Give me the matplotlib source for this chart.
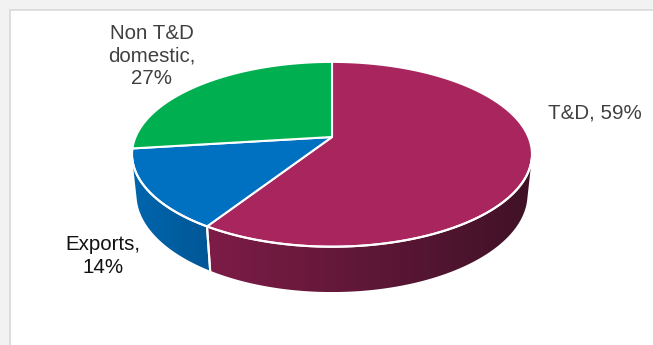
import numpy as np
import matplotlib
matplotlib.use("Agg")
import matplotlib.pyplot as plt
from matplotlib.patches import Polygon, Rectangle

labels = ["T&D, 59%", "Exports,\n14%", "Non T&D\ndomestic,\n27%"]
shares = [59, 14, 27]
top_colors = ["#A8265D", "#0070C0", "#00B050"]
side_light = [(0.49, 0.11, 0.28), (0.00, 0.40, 0.68), (0.00, 0.55, 0.25)]
side_dark = [(0.25, 0.07, 0.15), (0.00, 0.34, 0.59), (0.00, 0.45, 0.20)]
text_colors = ["#404040", "#111111", "#404040"]
label_pos = [(595, 113), (103, 256), (152, 56)]

# perspective camera
theta = np.radians(27)
D = 4.76
h = 0.23
scale = 935.0
cx, cy = 332, 137


def project(a, z=0.0, r=1.0):
    # a: angle clockwise from 12 o'clock (far side)
    x = r * np.sin(a)
    y = r * np.cos(a)
    ry = y + D * np.cos(theta)
    rz = z - D * np.sin(theta)
    depth = ry * np.cos(theta) - rz * np.sin(theta)
    up = ry * np.sin(theta) + rz * np.cos(theta)
    return cx + scale * x / depth, cy - scale * up / depth


fig = plt.figure(figsize=(6.53, 3.45), dpi=100)
fig.patch.set_facecolor("#F2F2F2")
ax = fig.add_axes([0, 0, 1, 1])
ax.set_xlim(0, 653)
ax.set_ylim(345, 0)
ax.axis("off")
ax.add_patch(Rectangle((9.5, 9.5), 660, 360, facecolor="white",
                       edgecolor="#D9D9D9", lw=1.2, zorder=0))

bounds = np.radians(np.concatenate([[0], np.cumsum(shares)]) * 3.6)
vis_lo = np.arccos(-1 / (D * np.cos(theta)))
vis_hi = 2 * np.pi - vis_lo

# sides with horizontal gradient
for i in range(len(shares)):
    a0, a1 = max(bounds[i], vis_lo), min(bounds[i + 1], vis_hi)
    if a1 <= a0:
        continue
    angs = np.linspace(a0, a1, 200)
    xt, yt = project(angs)
    xb, yb = project(angs[::-1], -h)
    px = np.r_[xt, xb]
    py = np.r_[yt, yb]
    side = Polygon(np.column_stack([px, py]), closed=True, facecolor="none",
                   edgecolor="none", zorder=1)
    ax.add_patch(side)
    t = np.linspace(0, 1, 256)
    grad = np.array(side_light[i])[None, :] * (1 - t[:, None]) + \
        np.array(side_dark[i])[None, :] * t[:, None]
    im = ax.imshow(grad[None, :, :], extent=[px.min(), px.max(), py.max(), py.min()],
                   aspect="auto", interpolation="bilinear", zorder=1)
    im.set_clip_path(side)
    # white seam on side at slice boundary
    for b in (bounds[i], bounds[i + 1]):
        if vis_lo < b < vis_hi:
            x0, y0 = project(b)
            x1, y1 = project(b, -h)
            ax.plot([x0, x1], [y0, y1], color="white", lw=1.5, zorder=2)

ax.set_xlim(0, 653)
ax.set_ylim(345, 0)

# top faces
for i in range(len(shares)):
    angs = np.linspace(bounds[i], bounds[i + 1], 200)
    xs, ys = project(angs)
    pts = np.column_stack([np.r_[cx, xs], np.r_[cy, ys]])
    ax.add_patch(Polygon(pts, closed=True, facecolor=top_colors[i],
                         edgecolor="white", lw=1.5, joinstyle="round", zorder=3))

# front rim highlight
rim = np.linspace(vis_lo, vis_hi, 300)
xr, yr = project(rim)
ax.plot(xr, yr, color="white", lw=1.5, zorder=4)

for lab, (x, y), col in zip(labels, label_pos, text_colors):
    ax.text(x, y, lab, ha="center", va="center", fontsize=14.8,
            family="Liberation Sans", color=col, linespacing=1.25, zorder=5)

fig.savefig("out.png", dpi=100, facecolor=fig.get_facecolor())
